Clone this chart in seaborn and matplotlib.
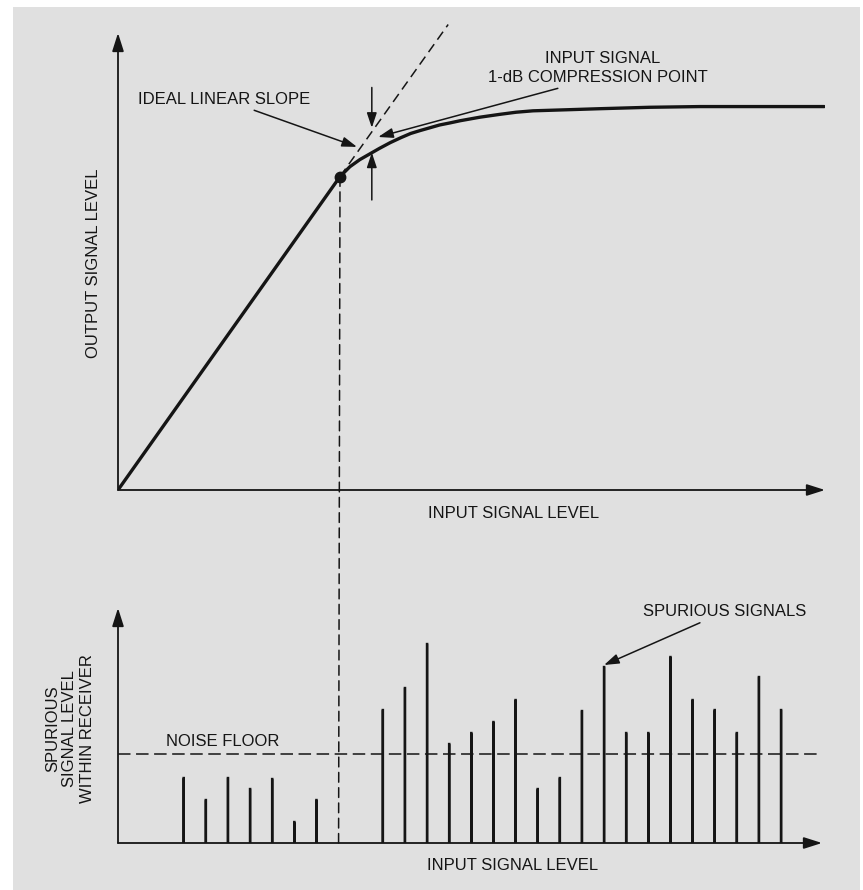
import matplotlib
matplotlib.use("Agg")
import matplotlib.pyplot as plt
import seaborn as sns
from matplotlib.patches import Rectangle, ConnectionPatch

# transfer curve (input level, output level)
curve_in = [0.0, 3.14, 3.28, 3.42, 3.56, 3.70, 3.85, 4.00, 4.14, 4.27, 4.41, 4.55,
            4.70, 4.84, 4.98, 5.12, 5.40, 5.63, 5.87, 6.35, 6.82, 7.52, 8.23, 9.99]
curve_out = [0.0, 4.43, 4.57, 4.67, 4.75, 4.83, 4.91, 4.98, 5.04, 5.08, 5.12, 5.16,
             5.19, 5.22, 5.245, 5.27, 5.31, 5.34, 5.36, 5.375, 5.39, 5.41, 5.42, 5.42]
comp_in, comp_out = 3.14, 4.43          # 1-dB compression point
ideal_in = [3.14, 4.67]                 # ideal linear slope continuation
ideal_out = [4.43, 6.58]

# spurious signals (lower panel)
spur_pos = [0, 1, 2, 3, 4, 5, 6,
            9, 10, 11, 12, 13, 14, 15, 16, 17, 18, 19, 20, 21, 22, 23, 24, 25, 26, 27]
spur_level = [6.5, 4.3, 6.5, 5.4, 6.4, 2.1, 4.3,
              13.3, 15.5, 19.9, 9.9, 11.0, 12.1, 14.3, 5.4, 6.5, 13.2, 17.6,
              11.0, 11.0, 18.6, 14.3, 13.3, 11.0, 16.6, 13.3]
comp_pos = 7
noise_floor = 8.9

sns.set_style("white")
plt.rcParams['font.family'] = ['Liberation Sans', 'DejaVu Sans']
plt.rcParams['lines.scale_dashes'] = False

INK = '#151515'
PAPER = '#e0e0e0'
FS = 12

W, H = 863, 890
fig = plt.figure(figsize=(W / 100, H / 100), dpi=100, facecolor='white')
fig.patches.append(Rectangle((13 / W, 0), (860 - 13) / W, (H - 7) / H,
                             transform=fig.transFigure, facecolor=PAPER,
                             edgecolor='none', zorder=-10))


def px_axes(left, right, top, bottom):
    return fig.add_axes([left / W, 1 - bottom / H, (right - left) / W, (bottom - top) / H])


def arrow_axes(ax):
    for s in ax.spines.values():
        s.set_visible(False)
    ax.set_xticks([])
    ax.set_yticks([])
    ax.patch.set_alpha(0)
    style = dict(arrowstyle='-|>,head_length=1.1,head_width=0.35', color=INK,
                 lw=1.3, shrinkA=0, shrinkB=0, mutation_scale=10)
    ax.annotate('', xy=(0, 1), xytext=(0, 0), xycoords='axes fraction', arrowprops=style)
    ax.annotate('', xy=(1, 0), xytext=(0, 0), xycoords='axes fraction', arrowprops=style)


# ---- top: output vs input ----
ax1 = px_axes(118, 825, 33, 490)
ax1.set_xlim(0, 10)
ax1.set_ylim(0, 6.46)
arrow_axes(ax1)

sns.lineplot(x=curve_in, y=curve_out, color=INK, lw=2.4, sort=False, ax=ax1)
ax1.plot(ideal_in, ideal_out, color=INK, lw=1.1, linestyle=(0, (7, 4)), clip_on=False)
ax1.plot([comp_in], [comp_out], 'o', color=INK, ms=7.5, zorder=5)

arr = dict(arrowstyle='-|>,head_length=0.9,head_width=0.3', color=INK, lw=1.1,
           shrinkA=0, shrinkB=0, mutation_scale=10)
ax1.annotate('', xy=(3.59, 5.12), xytext=(3.59, 5.69), arrowprops=arr)
ax1.annotate('', xy=(3.59, 4.77), xytext=(3.59, 4.10), arrowprops=arr)
ax1.annotate('IDEAL LINEAR SLOPE', xy=(3.38, 4.85), xytext=(0.28, 5.52),
             fontsize=FS, color=INK, va='center', ha='left', arrowprops=arr)
ax1.text(6.85, 6.10, 'INPUT SIGNAL', fontsize=FS, color=INK, ha='center', va='center')
ax1.annotate('1-dB COMPRESSION POINT', xy=(3.68, 4.99), xytext=(5.23, 5.83),
             fontsize=FS, color=INK, va='center', ha='left', arrowprops=arr)
ax1.text(5.6, -0.33, 'INPUT SIGNAL LEVEL', fontsize=FS, color=INK, ha='center', va='center')
ax1.text(-0.35, 3.2, 'OUTPUT SIGNAL LEVEL', fontsize=FS, color=INK, ha='center',
         va='center', rotation=90)

# ---- bottom: spurious signals ----
ax2 = px_axes(118, 822, 608, 843)
sns.barplot(x=spur_pos, y=spur_level, native_scale=True, width=0.01, color=INK,
            saturation=1, errorbar=None, edgecolor=INK, linewidth=1.7, ax=ax2)
for p in ax2.patches:
    p.set_snap(False)
ax2.set_xlim(-2.97, 28.85)
ax2.set_ylim(0, 23.5)
arrow_axes(ax2)
ax2.axhline(noise_floor, color=INK, lw=1.1, linestyle=(0, (9, 4)))
ax2.text(-0.8, 10.1, 'NOISE FLOOR', fontsize=FS, color=INK, ha='left', va='center')
ax2.annotate('SPURIOUS SIGNALS', xy=(19, 17.8), xytext=(20.75, 23.1),
             fontsize=FS, color=INK, ha='left', va='center', arrowprops=arr)
ax2.text(14.85, -2.3, 'INPUT SIGNAL LEVEL', fontsize=FS, color=INK, ha='center', va='center')
ax2.text(-5.14, 11.4, 'SPURIOUS\nSIGNAL LEVEL\nWITHIN RECEIVER', fontsize=FS, color=INK,
         ha='center', va='center', rotation=90, linespacing=1.2, multialignment='center')

# dashed drop line from the compression point down to the lower axis
con = ConnectionPatch(xyA=(comp_in, comp_out), coordsA=ax1.transData,
                      xyB=(comp_pos, 0), coordsB=ax2.transData,
                      color=INK, lw=1.1, linestyle=(0, (7, 4)))
fig.add_artist(con)

fig.savefig('out.png', dpi=100, facecolor=fig.get_facecolor())
